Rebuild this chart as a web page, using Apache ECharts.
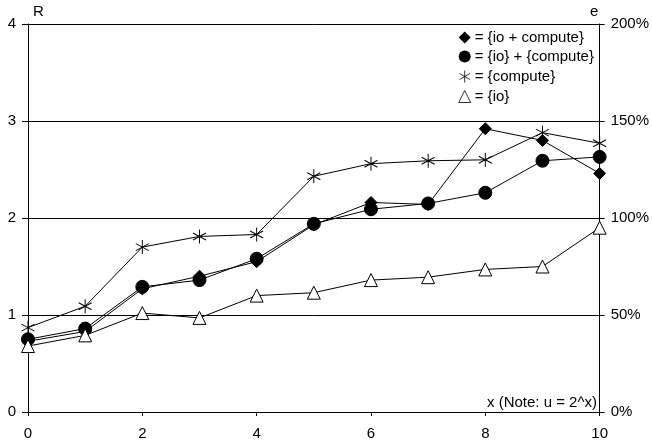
<!DOCTYPE html>
<html><head><meta charset="utf-8">
<script src="https://cdn.jsdelivr.net/npm/echarts@6/dist/echarts.min.js"></script>
<style>html,body{margin:0;padding:0;background:#fff}#c{width:652px;height:448px}</style>
</head><body><div id="c"></div>
<script>
const xs = [0,1,2,3,4,5,6,7,8,9,10];
const ioPlusCompute = [0.73,0.83,1.27,1.40,1.55,1.93,2.16,2.14,2.92,2.80,2.46];
const ioAndCompute  = [0.75,0.86,1.29,1.36,1.58,1.94,2.09,2.15,2.26,2.59,2.63];
const computeOnly   = [0.87,1.09,1.70,1.81,1.83,2.43,2.56,2.59,2.60,2.88,2.77];
const ioOnly        = [0.68,0.79,1.02,0.97,1.20,1.23,1.36,1.39,1.47,1.50,1.90];
const names = ['= {io + compute}','= {io} + {compute}','= {compute}','= {io}'];
const leftTicks = [0,1,2,3,4];
const rightTicks = ['0%','50%','100%','150%','200%'];
const star = 'path://M0,-10 L0,10 M-8.66,-5 L8.66,5 M-8.66,5 L8.66,-5';
const font = 'Liberation Sans, Arial, sans-serif';
const fs = 15;
function pts(v){ return xs.map((x,i)=>[x,v[i]]); }
const chart = echarts.init(document.getElementById('c'), null, {renderer:'canvas'});
chart.setOption({
  animation:false,
  backgroundColor:'#fff',
  textStyle:{fontFamily:font},
  grid:{left:28,right:51,top:24,bottom:36},
  xAxis:{type:'value',min:0,max:10,interval:2,
    axisLine:{lineStyle:{color:'#000',width:1}},
    axisTick:{show:true,length:4,lineStyle:{color:'#000'}},
    axisLabel:{color:'#000',fontSize:fs,fontFamily:font,margin:14},
    splitLine:{show:false}},
  yAxis:[{type:'value',min:0,max:4,interval:1,position:'left',
    axisLine:{show:true,lineStyle:{color:'#000'}},
    axisTick:{show:true,length:6,lineStyle:{color:'#000'}},
    axisLabel:{color:'#000',fontSize:fs,fontFamily:font,margin:12,formatter:v=>String(leftTicks[v])},
    splitLine:{show:true,lineStyle:{color:'#000',width:1}}},
   {type:'value',min:0,max:2,interval:0.5,position:'right',
    axisLine:{show:true,lineStyle:{color:'#000'}},
    axisTick:{show:true,length:5,lineStyle:{color:'#000'}},
    axisLabel:{color:'#000',fontSize:fs,fontFamily:font,margin:11,formatter:v=>rightTicks[Math.round(v*2)]},
    splitLine:{show:false}}],
  legend:{orient:'vertical',left:452,top:25,itemGap:4,itemWidth:12,itemHeight:12,
    textStyle:{color:'#000',fontSize:fs,fontFamily:font,padding:[0,0,0,-1]},
    data:[{name:names[0],icon:'diamond',itemStyle:{color:'#000'}},{name:names[1],icon:'circle'},
      {name:names[2],icon:star,itemStyle:{color:'none',borderColor:'#000',borderWidth:0.8}},
      {name:names[3],icon:'triangle',itemStyle:{color:'#fff',borderColor:'#000',borderWidth:0.8}}]},
  series:[
    {name:names[0],type:'line',data:pts(ioPlusCompute),symbol:'diamond',symbolSize:12,
      lineStyle:{color:'#000',width:1},itemStyle:{color:'#000',borderColor:'#000'}},
    {name:names[1],type:'line',data:pts(ioAndCompute),symbol:'circle',symbolSize:13,
      lineStyle:{color:'#000',width:1},itemStyle:{color:'#000',borderColor:'#000'}},
    {name:names[2],type:'line',data:pts(computeOnly),symbol:star,symbolSize:[13,14],
      lineStyle:{color:'#000',width:1},itemStyle:{color:'none',borderColor:'#000',borderWidth:1}},
    {name:names[3],type:'line',data:pts(ioOnly),symbol:'triangle',symbolSize:13,
      lineStyle:{color:'#000',width:1},itemStyle:{color:'#fff',borderColor:'#000',borderWidth:1}}
  ],
  graphic:[
    {type:'text',left:33,top:4,style:{text:'R',font:fs+'px '+font,fill:'#000'}},
    {type:'text',left:590,top:4,style:{text:'e',font:fs+'px '+font,fill:'#000'}},
    {type:'text',right:55,top:395,style:{text:'x (Note: u = 2^x)',font:fs+'px '+font,fill:'#000'}}
  ]
});
</script></body></html>
